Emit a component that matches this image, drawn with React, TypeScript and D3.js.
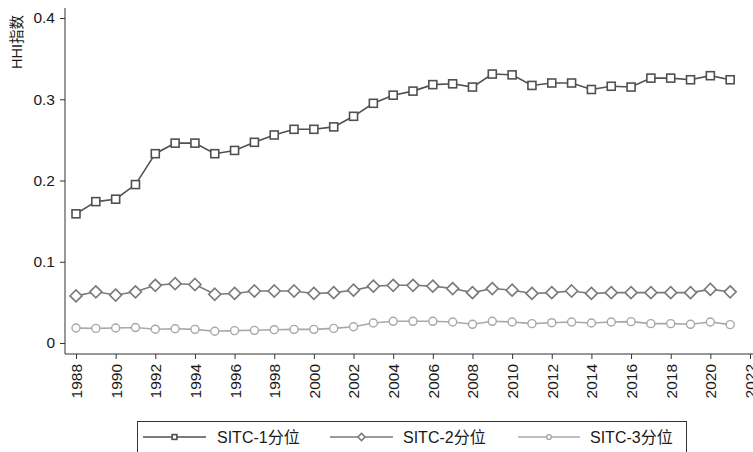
import React, { useRef, useEffect } from "react";
import * as d3 from "d3";

const years = [
    1988, 1989, 1990, 1991, 1992, 1993, 1994, 1995, 1996, 1997, 1998, 1999, 2000, 2001, 2002, 2003, 2004,
    2005, 2006, 2007, 2008, 2009, 2010, 2011, 2012, 2013, 2014, 2015, 2016, 2017, 2018, 2019, 2020, 2021,
];

const sitc1 = [
    0.159, 0.174, 0.177, 0.195, 0.233, 0.246, 0.246, 0.233, 0.237, 0.247, 0.256, 0.263, 0.263, 0.266,
    0.279, 0.295, 0.305, 0.31, 0.318, 0.319, 0.315, 0.331, 0.33, 0.317, 0.32, 0.32, 0.312, 0.316, 0.315,
    0.326, 0.326, 0.324, 0.329, 0.324,
];

const sitc2 = [
    0.058, 0.063, 0.059, 0.063, 0.071, 0.073, 0.072, 0.06, 0.061, 0.064, 0.064, 0.064, 0.061, 0.062,
    0.065, 0.07, 0.071, 0.071, 0.07, 0.067, 0.062, 0.067, 0.065, 0.061, 0.062, 0.064, 0.061, 0.062, 0.062,
    0.062, 0.062, 0.062, 0.066, 0.063,
];

const sitc3 = [
    0.0185, 0.018, 0.0185, 0.019, 0.017, 0.0176, 0.0168, 0.0144, 0.0152, 0.0156, 0.0164, 0.0168, 0.0168,
    0.018, 0.02, 0.0246, 0.0267, 0.0267, 0.0267, 0.0259, 0.023, 0.0267, 0.0259, 0.0238, 0.025, 0.0259,
    0.0246, 0.0259, 0.0263, 0.0238, 0.0238, 0.023, 0.0259, 0.0226,
];

const xTicks = d3.range(1988, 2023, 2);
const yTicks = [0, 0.1, 0.2, 0.3, 0.4];
const seriesLabels = ["SITC-1分位", "SITC-2分位", "SITC-3分位"];
const yTitle = "HHI指数";

const FONT = "Arial, 'Liberation Sans', 'Noto Sans CJK SC', sans-serif";

const App = () => {
    const svgRef = useRef(null);

    useEffect(() => {
        if (!svgRef.current) return;
        const width = 753;
        const height = 452;

        const svg = d3.select(svgRef.current);
        svg.selectAll("*").remove();
        svg.attr("width", width).attr("height", height).style("background", "white");

        const x = d3.scaleLinear().domain([1988, 2022]).range([76, 750]);
        const y = d3.scaleLinear().domain([0, 0.4]).range([343, 18]);
        const axisLeftX = 65;
        const axisBottomY = 354;

        // y axis
        const yAxis = svg.append("g")
            .attr("transform", `translate(${axisLeftX},0)`)
            .call(d3.axisLeft(y).tickValues(yTicks).tickSize(5).tickPadding(5)
                .tickFormat(d => (d === 0 ? "0" : d3.format(".1f")(d))));
        yAxis.select(".domain").attr("d", `M0,8V${axisBottomY}`);
        yAxis.selectAll("line").style("stroke", "#333");
        yAxis.selectAll("path").style("stroke", "#333");
        yAxis.selectAll("text").style("fill", "#1a1a1a").style("font-size", "15.5px").style("font-family", FONT);

        // x axis
        const xAxis = svg.append("g")
            .attr("transform", `translate(0,${axisBottomY})`)
            .call(d3.axisBottom(x).tickValues(xTicks).tickSize(5).tickFormat(d3.format("d")));
        xAxis.select(".domain").attr("d", `M${axisLeftX},0H${width}`);
        xAxis.selectAll("line").style("stroke", "#333");
        xAxis.selectAll("path").style("stroke", "#333");
        xAxis.selectAll("text")
            .style("fill", "#1a1a1a")
            .style("font-size", "15.5px")
            .style("font-family", FONT)
            .attr("transform", "rotate(-90)")
            .attr("text-anchor", "end")
            .attr("x", -10)
            .attr("y", 0)
            .attr("dy", "0.35em");

        // y title
        svg.append("text")
            .attr("transform", "translate(22,42) rotate(-90)")
            .attr("text-anchor", "middle")
            .style("font-size", "14.5px")
            .style("font-family", FONT)
            .style("fill", "#1a1a1a")
            .text(yTitle);

        const series = [
            { values: sitc1, color: "#505050", marker: "square" },
            { values: sitc2, color: "#7a7a7a", marker: "diamond" },
            { values: sitc3, color: "#a8a8a8", marker: "circle" },
        ];

        const drawMarker = (g, type, cx, cy, color, scale = 1) => {
            if (type === "square") {
                const s = 8 * scale;
                g.append("rect")
                    .attr("x", cx - s / 2).attr("y", cy - s / 2)
                    .attr("width", s).attr("height", s)
                    .attr("fill", "white").attr("stroke", color).attr("stroke-width", 1.6);
            } else if (type === "diamond") {
                const r = 6 * scale;
                g.append("path")
                    .attr("d", `M${cx},${cy - r}L${cx + r},${cy}L${cx},${cy + r}L${cx - r},${cy}Z`)
                    .attr("fill", "white").attr("stroke", color).attr("stroke-width", 1.6);
            } else {
                g.append("circle")
                    .attr("cx", cx).attr("cy", cy).attr("r", 4 * scale)
                    .attr("fill", "white").attr("stroke", color).attr("stroke-width", 1.4);
            }
        };

        series.slice().reverse().forEach(s => {
            const data = years.map((yr, i) => ({ year: yr, value: s.values[i] }));
            const line = d3.line().x(d => x(d.year)).y(d => y(d.value));
            svg.append("path")
                .datum(data)
                .attr("fill", "none")
                .attr("stroke", s.color)
                .attr("stroke-width", 1.6)
                .attr("d", line);
            const g = svg.append("g");
            data.forEach(d => drawMarker(g, s.marker, x(d.year), y(d.value), s.color));
        });

        // legend
        const legend = svg.append("g");
        legend.append("rect")
            .attr("x", 137.5).attr("y", 421.5)
            .attr("width", 549).attr("height", 40)
            .attr("fill", "white").attr("stroke", "#333").attr("stroke-width", 1);

        const legendItems = [
            { x1: 143, x2: 206, tx: 217 },
            { x1: 330, x2: 393, tx: 403 },
            { x1: 518, x2: 580, tx: 590 },
        ];
        legendItems.forEach((item, i) => {
            const ly = 437;
            legend.append("line")
                .attr("x1", item.x1).attr("x2", item.x2)
                .attr("y1", ly).attr("y2", ly)
                .attr("stroke", series[i].color).attr("stroke-width", 1.6);
            drawMarker(legend, series[i].marker, (item.x1 + item.x2) / 2, ly, series[i].color, 0.6);
            legend.append("text")
                .attr("x", item.tx).attr("y", ly)
                .attr("dy", "0.35em")
                .style("font-size", "16px")
                .style("font-family", FONT)
                .style("fill", "#1a1a1a")
                .text(seriesLabels[i]);
        });
    }, []);

    return (
        <div style={{ position: "fixed", left: 0, top: 0, width: 753, height: 452, overflow: "hidden", background: "white" }}>
            <svg ref={svgRef}></svg>
        </div>
    );
};

export default App;
